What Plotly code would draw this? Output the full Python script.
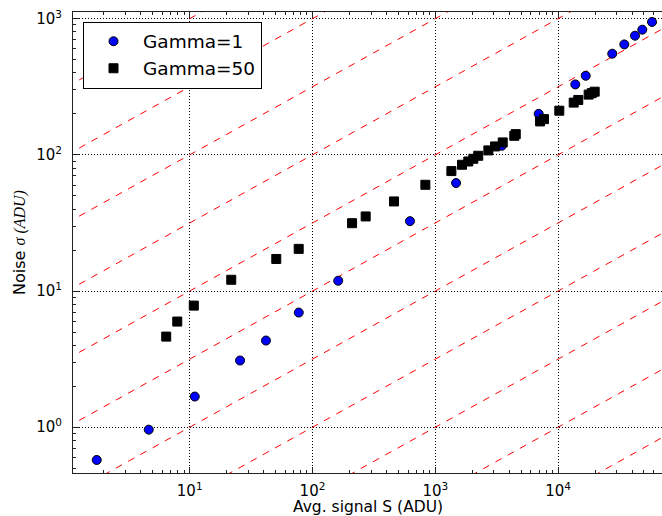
import plotly.graph_objects as go
import numpy as np

# ---- data ----
g1_signal = [1.75, 4.64, 11.0, 25.7, 41.8, 77.3, 162, 622, 1476, 3475, 6950,
             13800, 16790, 27600, 34600, 42300, 48500, 58200]
g1_noise = [0.575, 0.96, 1.68, 3.09, 4.33, 6.95, 11.9, 32.6, 62.1, 116.7, 200,
            329, 381, 553, 647, 750, 830, 946]

g50_signal = [6.44, 7.92, 10.8, 21.8, 50.7, 77.2, 210, 271, 461, 830, 1352, 1650,
              1857, 2040, 2238, 2705, 3064, 3540, 4400, 4520, 7130, 7680, 10230,
              13400, 14600, 17740, 18800, 19860]
g50_noise = [4.63, 5.97, 7.82, 12.1, 17.2, 20.4, 31.5, 35.3, 45.5, 60.3, 76.0, 84.6,
             89.4, 93.6, 98.5, 107.8, 115.3, 123.4, 138, 142, 176, 183, 211,
             242, 253, 277, 284, 291]

# reference lines sigma = sqrt(S * 10**k)
ref_exponents = [-5, -4, -3, -2, -1, 0, 1, 2, 3, 4, 5, 6]
ref_signal = [1.0, 1.0e5]

tick_vals_x = [10, 100, 1000, 10000]
tick_text_x = ["10<sup>1</sup>", "10<sup>2</sup>", "10<sup>3</sup>", "10<sup>4</sup>"]
tick_vals_y = [1, 10, 100, 1000]
tick_text_y = ["10<sup>0</sup>", "10<sup>1</sup>", "10<sup>2</sup>", "10<sup>3</sup>"]

x_title = "Avg. signal S (ADU)"
y_title = "Noise <span style=\"font-family:'Liberation Serif';font-style:italic\">σ (ADU)</span>"

fig = go.Figure()

for k in ref_exponents:
    s = np.array(ref_signal)
    fig.add_trace(go.Scatter(
        x=s, y=np.sqrt(s * 10.0 ** k), mode="lines",
        line=dict(color="#ff0000", width=1, dash="7px,7px"),
        showlegend=False, hoverinfo="skip"))

fig.add_trace(go.Scatter(
    x=g1_signal, y=g1_noise, mode="markers", name="Gamma=1",
    marker=dict(symbol="circle", size=9, color="#0000ff",
                line=dict(color="black", width=1))))
fig.add_trace(go.Scatter(
    x=g50_signal, y=g50_noise, mode="markers", name="Gamma=50",
    marker=dict(symbol="square", size=9, color="black",
                line=dict(color="black", width=1))))

font = "DejaVu Sans"
axis_common = dict(
    type="log", showline=True, linecolor="#222222", linewidth=1,
    ticks="inside", ticklen=6, tickwidth=1, tickcolor="#222222",
    showgrid=True, gridcolor="black", gridwidth=1, griddash="1px,2px",
    zeroline=False, automargin=False,
    tickfont=dict(family=font, size=15, color="black"),
    minor=dict(ticks="inside", ticklen=3, tickwidth=1, tickcolor="#222222",
               dtick="D1", showgrid=False),
)

fig.update_layout(
    width=662, height=516,
    margin=dict(l=73, r=0, t=12, b=43),
    paper_bgcolor="white", plot_bgcolor="white",
    font=dict(family=font, color="black"),
    xaxis=dict(**axis_common, range=[0.0497, 4.8461], mirror="allticks",
               tickvals=tick_vals_x, ticktext=tick_text_x, ticklabelstandoff=4),
    yaxis=dict(**axis_common, range=[-0.336, 3.049],
               tickvals=tick_vals_y, ticktext=tick_text_y, ticklabelstandoff=7,
               title=dict(text=y_title,
                          font=dict(family=font, size=16), standoff=6)),
    legend=dict(x=0.017, y=0.979, xanchor="left", yanchor="top",
                bgcolor="white", bordercolor="black", borderwidth=1,
                font=dict(family=font, size=18.5, color="black"),
                itemsizing="trace", itemwidth=49, tracegroupgap=0),
    showlegend=True,
    annotations=[dict(text=x_title, xref="paper", yref="paper", x=0.5, y=0,
                      xanchor="center", yanchor="top", yshift=-24,
                      showarrow=False, borderpad=0,
                      font=dict(family=font, size=15.5, color="black"))],
)

fig.write_html("out.html")
